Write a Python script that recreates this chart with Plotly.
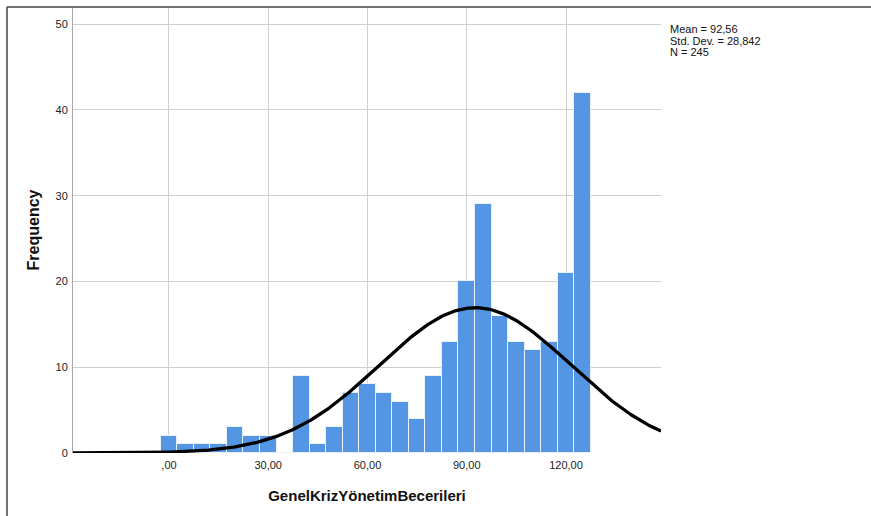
import numpy as np
import plotly.graph_objects as go

bin_centers = [0, 5, 10, 15, 20, 25, 30, 35, 40, 45, 50, 55, 60, 65, 70, 75,
               80, 85, 90, 95, 100, 105, 110, 115, 120, 125]
frequencies = [2, 1, 1, 1, 3, 2, 2, 0, 9, 1, 3, 7, 8, 7, 6, 4,
               9, 13, 20, 29, 16, 13, 12, 13, 21, 42]
bin_width = 5
mean = 92.56
std_dev = 28.842
n_total = 245

x_tickvals = [0, 30, 60, 90, 120]
x_ticktext = [",00", "30,00", "60,00", "90,00", "120,00"]
y_tickvals = [0, 10, 20, 30, 40, 50]
stats_lines = ["Mean = 92,56", "Std. Dev. = 28,842", "N = 245"]

x_min, x_max = -29.0, 148.7
y_min, y_max = 0, 52.0

curve_x = np.linspace(x_min, x_max, 400)
curve_y = n_total * bin_width / (std_dev * np.sqrt(2 * np.pi)) * np.exp(-0.5 * ((curve_x - mean) / std_dev) ** 2)

fig = go.Figure()
fig.add_trace(go.Bar(
    x=bin_centers, y=frequencies, width=bin_width,
    marker=dict(color="#5596E4", line=dict(color="#E8F0FB", width=1)),
    hoverinfo="x+y",
))
fig.add_trace(go.Scatter(
    x=curve_x, y=curve_y, mode="lines",
    line=dict(color="black", width=3.3), hoverinfo="skip",
))

font_family = "Liberation Sans, Arial, sans-serif"
fig.update_layout(
    width=871, height=516,
    margin=dict(l=73, r=210, t=7, b=63),
    paper_bgcolor="white", plot_bgcolor="white",
    showlegend=False,
    font=dict(family=font_family, size=11, color="#222222"),
    bargap=0,
    xaxis=dict(
        range=[x_min, x_max], tickvals=x_tickvals, ticktext=x_ticktext,
        showgrid=True, gridcolor="#CFCFCF", gridwidth=1,
        zeroline=False, showline=False, ticks="",
        ticklabelstandoff=4,
        tickfont=dict(size=11, color="#222222"),
        title=dict(text="<b>GenelKrizYönetimBecerileri</b>",
                   font=dict(size=15, color="#111111"), standoff=20),
    ),
    yaxis=dict(
        range=[y_min, y_max], tickvals=y_tickvals,
        showgrid=True, gridcolor="#CFCFCF", gridwidth=1,
        zeroline=False, showline=True, linecolor="#AAAAAA", linewidth=1,
        ticks="", ticklabelstandoff=2,
        tickfont=dict(size=11, color="#222222"),
        title=dict(text="<b>Frequency</b>",
                   font=dict(size=16, color="#111111"), standoff=11),
    ),
)

# Stats text, one annotation per line for tight spacing
for i, line in enumerate(stats_lines):
    fig.add_annotation(
        xref="paper", yref="paper", x=(668 - 73) / 588, y=(453 - (29 + 11.5 * i)) / 446,
        xanchor="left", yanchor="middle", align="left", showarrow=False,
        text=line, font=dict(size=11, color="#111111", family=font_family),
    )

# Outer frame lines (top and left)
px_to_xp = lambda px: (px - 73) / 588
py_to_yp = lambda py: (453 - py) / 446
fig.add_shape(type="line", xref="paper", yref="paper",
              x0=px_to_xp(7), x1=px_to_xp(871), y0=py_to_yp(7), y1=py_to_yp(7),
              line=dict(color="#444444", width=1.5))
fig.add_shape(type="line", xref="paper", yref="paper",
              x0=px_to_xp(7), x1=px_to_xp(7), y0=py_to_yp(7), y1=py_to_yp(516),
              line=dict(color="#444444", width=1.5))

fig.write_html("out.html")
